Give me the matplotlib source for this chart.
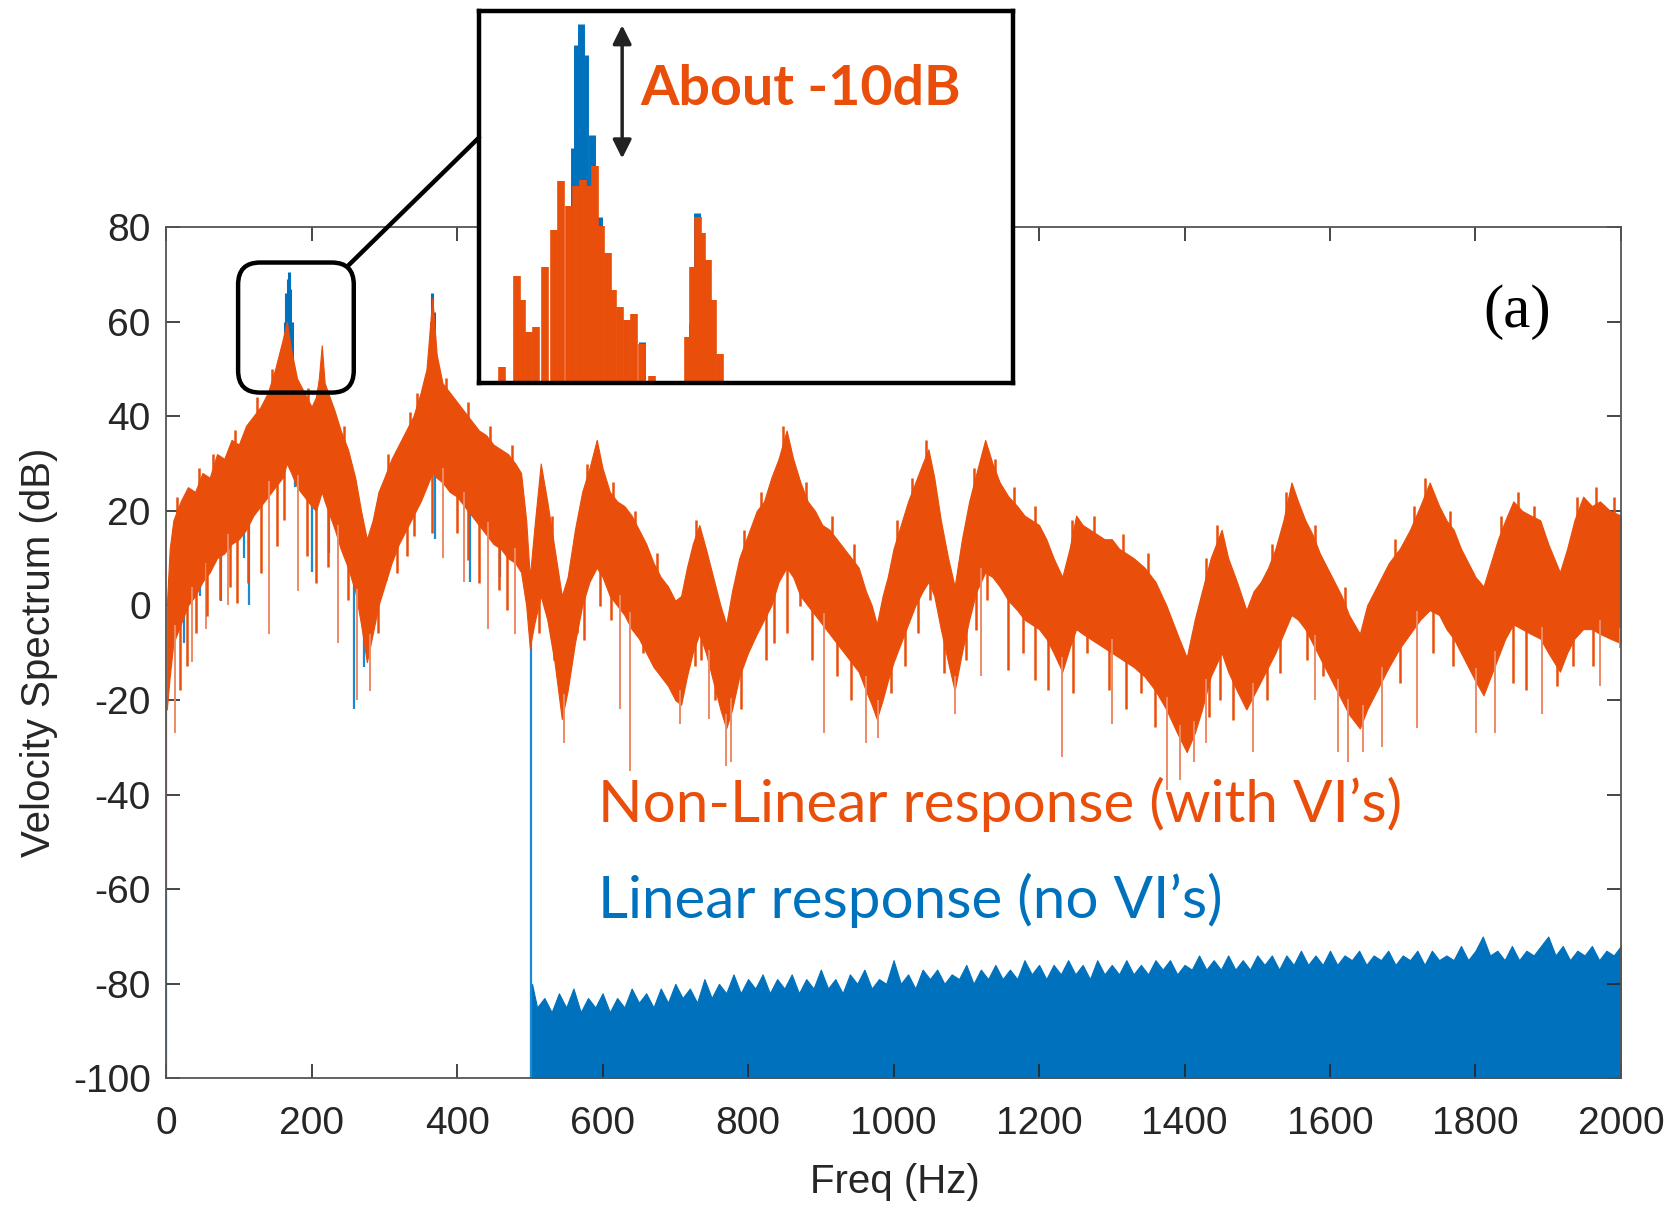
import numpy as np
import matplotlib.pyplot as plt
from matplotlib.patches import FancyBboxPatch, ConnectionPatch
from matplotlib.transforms import IdentityTransform

plt.rcParams['axes.unicode_minus'] = False

# ---- data (Hz, dB) ----
# non-linear response: dense band, upper and lower edge
orange_freq = [1, 5, 10, 20, 30, 40, 50, 60, 70, 80, 90, 100, 110, 120, 130, 140, 150, 160, 166, 172,
               180, 190, 200, 206, 210, 214, 218, 225, 232, 240, 250, 260, 268, 276, 284, 292, 300, 310, 320, 330,
               340, 350, 358, 366, 372, 380, 390, 400, 410, 420, 430, 440, 450, 460, 470, 480, 488, 495, 500, 506,
               515, 524, 534, 544, 552, 562, 572, 582, 592, 600, 610, 620, 630, 640, 650, 660, 670, 680, 690, 700,
               708, 716, 724, 733, 742, 752, 762, 770, 778, 788, 800, 812, 822, 832, 842, 853, 862, 872, 882, 892,
               902, 912, 922, 932, 942, 952, 962, 970, 977, 985, 992, 1000, 1010, 1020, 1030, 1040, 1048, 1056, 1065, 1075,
               1084, 1094, 1104, 1114, 1126, 1136, 1146, 1158, 1170, 1180, 1190, 1200, 1210, 1220, 1232, 1242, 1251, 1260, 1270, 1280,
               1290, 1300, 1310, 1320, 1330, 1345, 1360, 1375, 1390, 1403, 1414, 1424, 1436, 1451, 1460, 1472, 1485, 1495, 1505, 1515,
               1525, 1536, 1547, 1556, 1566, 1576, 1586, 1596, 1606, 1616, 1626, 1641, 1651, 1661, 1671, 1681, 1696, 1710, 1724, 1737,
               1750, 1760, 1770, 1780, 1790, 1800, 1811, 1821, 1831, 1841, 1852, 1864, 1876, 1889, 1900, 1916, 1926, 1936, 1948, 1960,
               1971, 1985, 2000]
orange_top = [0, 12, 18, 22, 25, 24, 28, 27, 32, 31, 35, 34, 38, 40, 42, 45, 50, 56, 60, 54,
              48, 45, 42, 44, 48, 55, 47, 44, 41, 37, 33, 27, 20, 14, 18, 24, 27, 31, 34, 37,
              40, 45, 50, 65, 53, 47, 45, 43, 41, 39, 37, 36, 34, 33, 32, 30, 28, 18, 6, 16,
              30, 22, 12, 2, 6, 16, 24, 29, 35, 29, 24, 22, 21, 19, 16, 13, 9, 6, 4, 1,
              2, 8, 13, 17, 12, 6, 0, -4, 3, 10, 15, 20, 22, 27, 31, 37, 31, 26, 22, 20,
              17, 16, 14, 12, 10, 8, 3, 0, -4, 2, 6, 12, 17, 22, 26, 30, 33, 27, 18, 10,
              4, 14, 22, 28, 35, 30, 26, 23, 21, 19, 18, 17, 14, 10, 6, 12, 19, 17, 16, 15,
              14, 14, 12, 11, 10, 8, 5, 0, -6, -11, -3, 3, 10, 16, 10, 5, -1, 3, 5, 8,
              12, 18, 26, 22, 18, 15, 11, 8, 5, 2, -2, -6, 0, 3, 6, 9, 12, 16, 21, 26,
              21, 18, 16, 12, 9, 6, 4, 9, 14, 18, 22, 20, 19, 18, 13, 7, 12, 18, 23, 21,
              22, 20, 19]
orange_bot = [-22, -15, -8, -4, 0, 2, 5, 7, 10, 11, 13, 14, 16, 19, 21, 23, 25, 27, 30, 28,
              25, 23, 21, 20, 22, 24, 22, 19, 16, 12, 8, 3, -4, -12, -6, 0, 4, 9, 13, 16,
              19, 22, 25, 28, 27, 26, 24, 23, 21, 19, 17, 15, 13, 12, 10, 9, 7, 0, -9, -4,
              2, -3, -12, -24, -18, -8, 0, 5, 8, 6, 2, 0, -2, -5, -7, -10, -13, -15, -17, -20,
              -21, -15, -10, -6, -10, -16, -22, -26, -22, -15, -10, -6, -3, 0, 5, 8, 6, 2, 0, -2,
              -4, -6, -8, -10, -12, -14, -18, -21, -24, -20, -16, -12, -8, -4, 0, 3, 5, 2, -5, -12,
              -18, -10, -3, 3, 7, 6, 4, 1, -1, -3, -4, -5, -7, -10, -14, -9, -5, -6, -7, -8,
              -9, -10, -11, -12, -13, -15, -18, -22, -27, -31, -27, -22, -15, -10, -14, -18, -22, -19, -16, -13,
              -10, -6, -2, -3, -5, -8, -11, -14, -17, -20, -23, -26, -22, -19, -16, -13, -9, -6, -3, -1,
              -2, -5, -7, -10, -13, -16, -19, -15, -11, -7, -4, -5, -6, -7, -10, -14, -10, -7, -5, -5,
              -6, -7, -8]
# short spikes poking above the band
orange_up_freq = [15, 45, 65, 95, 125, 145, 195, 245, 305, 335, 345, 385, 415, 445, 475, 530, 578, 615,
                  645, 675, 728, 795, 818, 848, 880, 915, 945, 1005, 1025, 1045, 1110, 1140, 1165, 1195,
                  1245, 1275, 1315, 1350, 1430, 1445, 1520, 1540, 1580, 1620, 1690, 1715, 1730, 1765,
                  1835, 1858, 1880, 1940, 1965, 1990]
orange_up_db = [23, 29, 32, 37, 44, 50, 46, 38, 32, 41, 45, 48, 43, 38, 34, 19, 30, 26,
                20, 11, 18, 16, 24, 38, 26, 19, 13, 18, 27, 35, 29, 31, 25, 21,
                18, 19, 15, 11, 10, 17, 13, 24, 17, 4, 14, 21, 27, 20,
                19, 24, 21, 23, 25, 23]
# spikes hanging below the band (ragged lower edge)
orange_down_freq = [19.6, 29, 41.7, 56.5, 73.6, 88, 98, 113, 130, 152, 162, 194, 206, 223, 250, 292, 302,
                    317, 331, 341, 366, 400, 415, 430, 457, 469, 513, 533, 565, 574, 597, 611, 655, 675,
                    695, 727, 736, 755, 790, 824, 836, 854, 871, 888, 922, 942, 996, 1016, 1033, 1050,
                    1070, 1099, 1114, 1129, 1158, 1178, 1195, 1212, 1247, 1266, 1296, 1320, 1340, 1359,
                    1433, 1449, 1458, 1467, 1513, 1531, 1547, 1568, 1591, 1696, 1742, 1769, 1852, 1870,
                    1912, 1934, 1962]
orange_down_db = [-17.8, -12.9, -5.9, -2.3, 1.2, 4, 0.5, 4.7, 6.8, 12.5, 18.1, 10.4, 4.7, 8.2, 1.2, -5.9, 5.4,
                  6.8, 10.4, 14.6, 15.3, 15.3, 9.7, 4.7, 3.3, -0.9, -5.9, -11.5, -5.9, -7.3, -0.2, -3, -10, -12.9,
                  -16.4, -12.9, -11.5, -20, -22, -11.5, -8, -5.9, -0.2, -11.5, -15, -20, -18.5, -12.9, -5.9, 1.2,
                  -14.3, -11.5, -5.2, 1.2, -13.6, -10, -15.7, -17.8, -18.5, -10, -17.8, -22, -18.5, -25.6,
                  -23.5, -20, -12.9, -24.2, -20, -14.3, -2.3, -11.5, -15, -16.4, -10, -12.9, -16.4, -17.8,
                  -17.1, -12.9, -12.9]
# deep, lighter spikes of the non-linear response
orange_spike_freq = [0.5, 12, 35, 55, 85, 142, 182, 236, 263, 280, 380, 410, 442, 479, 547, 624, 638,
                     707, 746, 770, 777, 905, 962, 979, 1084, 1120, 1232, 1300, 1376, 1394, 1413, 1430,
                     1494, 1580, 1611, 1625, 1646, 1671, 1719, 1801, 1827, 1891, 1971, 1998]
orange_spike_db = [-60, -27, -12, -5, 0, -6, 3, -8, -20, -18, 10, 5, -5, -6, -29, -22, -35,
                   -25, -24, -34, -33, -27, -29, -28, -23, -15, -32, -25, -39, -37, -33, -29,
                   -31, -20, -31, -33, -31, -30, -26, -27, -27, -23, -17, -9]

# linear response: noise floor above 500 Hz (upper edge)
blue_freq = [503] + list(range(510, 2001, 10))
blue_top = [-80, -85, -83, -86, -82, -85, -81, -86, -83, -85, -82, -86, -83, -85, -81, -84, -82, -85, -81, -84,
            -80, -83, -81, -84, -79, -83, -80, -82, -78, -82, -79, -81, -78, -82, -79, -81, -78, -82, -79, -81,
            -77, -81, -79, -82, -78, -80, -77, -81, -79, -80, -75, -80, -78, -81, -77, -79, -77, -80, -78, -79,
            -76, -80, -77, -79, -76, -79, -77, -79, -75, -78, -76, -79, -76, -78, -75, -78, -76, -79, -75, -78,
            -76, -78, -75, -78, -76, -78, -75, -77, -75, -78, -76, -77, -74, -77, -75, -77, -74, -77, -75, -77,
            -74, -76, -74, -77, -74, -76, -73, -76, -74, -76, -73, -76, -74, -75, -73, -76, -74, -75, -73, -76,
            -74, -75, -73, -76, -73, -75, -74, -75, -72, -75, -73, -70, -74, -73, -75, -72, -75, -73, -74, -72,
            -70, -74, -72, -75, -73, -74, -72, -75, -73, -74, -72]
# linear response peeking out of the orange band
blue_dip_freq = [0.5, 24, 46, 75, 107, 114, 177, 200, 224, 258, 272, 369, 418, 459, 501]
blue_dip_db = [-100, -8, 2, 1, 10, 0, 25, 7, 11, -22, -13, 14, 5, 6, -100]
blue_peak_freq = [163, 165, 167, 169, 171, 173, 364, 366, 368]
blue_peak_db = [60, 66, 69, 70.6, 67, 60, 60, 66, 62]

# zoomed view (inset)
inset_orange_freq = [134.5, 140.3, 142.5, 145.4, 148.3, 152.0, 155.6, 158.5, 161.5, 164.4, 167.3, 170.2, 172.4,
                     174.6, 177.5, 179.7, 182.6, 185.5, 188.4, 191.3, 195.7, 210.3, 212.5, 214.2, 216.1, 218.3,
                     220.5, 223.4]
inset_orange_db = [47.1, 53.5, 51.8, 49.6, 49.9, 54.1, 56.7, 60.1, 58.4, 59.8, 60.2, 59.8, 61.2,
                   57.0, 55.1, 52.5, 51.3, 50.4, 50.8, 48.7, 46.5, 49.2, 54.1, 57.6, 56.5, 54.6,
                   51.8, 48.0]
inset_blue_freq = [163.6, 165.1, 166.8, 168.3, 170.9, 173.8, 191.3, 211.8, 214.0]
inset_blue_db = [62.4, 69.6, 71.1, 68.9, 63.3, 57.6, 48.9, 50.1, 57.9]

highlight_freq = (99, 258)
highlight_db = (45, 72.5)

ORANGE = '#E94E0A'
ORANGE_LIGHT = '#EE8A66'
BLUE = '#0072BD'

fig = plt.figure(figsize=(16.81, 12.09), dpi=100)
ax = fig.add_axes([0.0988, 0.108, 0.8655, 0.7042])

# linear response
ax.fill_between(blue_freq, -100, blue_top, color=BLUE, lw=0.8, zorder=1)
dip_tops = np.interp(blue_dip_freq, orange_freq, orange_bot) + 3
ax.vlines(blue_dip_freq, blue_dip_db, dip_tops, color='#1A8AD4', lw=1.6, zorder=1)
ax.vlines(blue_peak_freq, 40, blue_peak_db, color=BLUE, lw=2.2, zorder=1)

# non-linear response
ax.fill_between(orange_freq, orange_bot, orange_top, color=ORANGE, lw=0.8, zorder=2)
spike_tops = np.interp(orange_spike_freq, orange_freq, orange_bot) + 3
ax.vlines(orange_spike_freq, orange_spike_db, spike_tops, color=ORANGE_LIGHT, lw=1.4, zorder=2)
down_tops = np.interp(orange_down_freq, orange_freq, orange_bot) + 3
ax.vlines(orange_down_freq, orange_down_db, down_tops, color=ORANGE, lw=1.8, zorder=2)
up_base = np.interp(orange_up_freq, orange_freq, orange_top) - 3
ax.vlines(orange_up_freq, up_base, orange_up_db, color=ORANGE, lw=1.8, zorder=2)

ax.set_xlim(0, 2000)
ax.set_ylim(-100, 80)
ax.set_xticks(np.arange(0, 2001, 200))
ax.set_yticks(np.arange(-100, 81, 20))
ax.tick_params(direction='in', length=10, width=1.2, top=True, right=True,
               labelsize=28, colors='#262626')
ax.tick_params(axis='x', pad=20)
ax.tick_params(axis='y', pad=11)
for lab in ax.get_xticklabels() + ax.get_yticklabels():
    lab.set_family('Liberation Sans')
for s in ax.spines.values():
    s.set_color('#555555')
    s.set_linewidth(1.3)
ax.set_xlabel('Freq (Hz)', family='Liberation Sans', fontsize=29, color='#262626')
ax.set_ylabel('Velocity Spectrum (dB)', family='Liberation Sans', fontsize=29, color='#262626')
ax.xaxis.set_label_coords(0.501, -0.099)
ax.yaxis.set_label_coords(-0.074, 0.5)

ax.text(1857, 62, '(a)', family='Liberation Serif', fontsize=44, ha='center', va='center', color='black')
ax.text(594, -42, 'Non-Linear response (with VI\u2019s)', family='Lato', fontsize=42,
        color=ORANGE, ha='left', va='center')
ax.text(594, -62.4, 'Linear response (no VI\u2019s)', family='Lato', fontsize=42,
        color=BLUE, ha='left', va='center')

# rounded box around the highlighted peak
(x0, y0) = ax.transData.transform((highlight_freq[0], highlight_db[0]))
(x1, y1) = ax.transData.transform((highlight_freq[1], highlight_db[1]))
box = FancyBboxPatch((x0, y0), x1 - x0, y1 - y0, boxstyle='round,pad=0,rounding_size=22',
                     transform=IdentityTransform(), fill=False, ec='black', lw=3.2, zorder=5)
fig.add_artist(box)

# inset
ax_in = fig.add_axes([0.2850, 0.6832, 0.3177, 0.3077])
ax_in.set_facecolor('white')
ax_in.vlines(inset_blue_freq, 46, inset_blue_db, color=BLUE, lw=5)
ax_in.vlines(inset_orange_freq, 46, inset_orange_db, color=ORANGE, lw=5.5)
ax_in.set_xlim(125, 343)
ax_in.set_ylim(46, 72)
ax_in.set_xticks([])
ax_in.set_yticks([])
for s in ax_in.spines.values():
    s.set_color('black')
    s.set_linewidth(3.2)
ax_in.annotate('', xy=(183.4, 61.5), xytext=(183.4, 71.2),
               arrowprops=dict(arrowstyle='<|-|>', color='#222222', lw=2.5, mutation_scale=28))
fig.text(0.3807, 0.9264, 'About -10dB', family='Lato', fontweight='bold', fontsize=40,
         color=ORANGE, ha='left', va='center')

con = ConnectionPatch(xyA=(250, 71.8), coordsA=ax.transData, xyB=(0, 0.66), coordsB=ax_in.transAxes,
                      color='black', lw=3.2, zorder=4)
fig.add_artist(con)

fig.savefig('out.png', dpi=100, facecolor='white')
